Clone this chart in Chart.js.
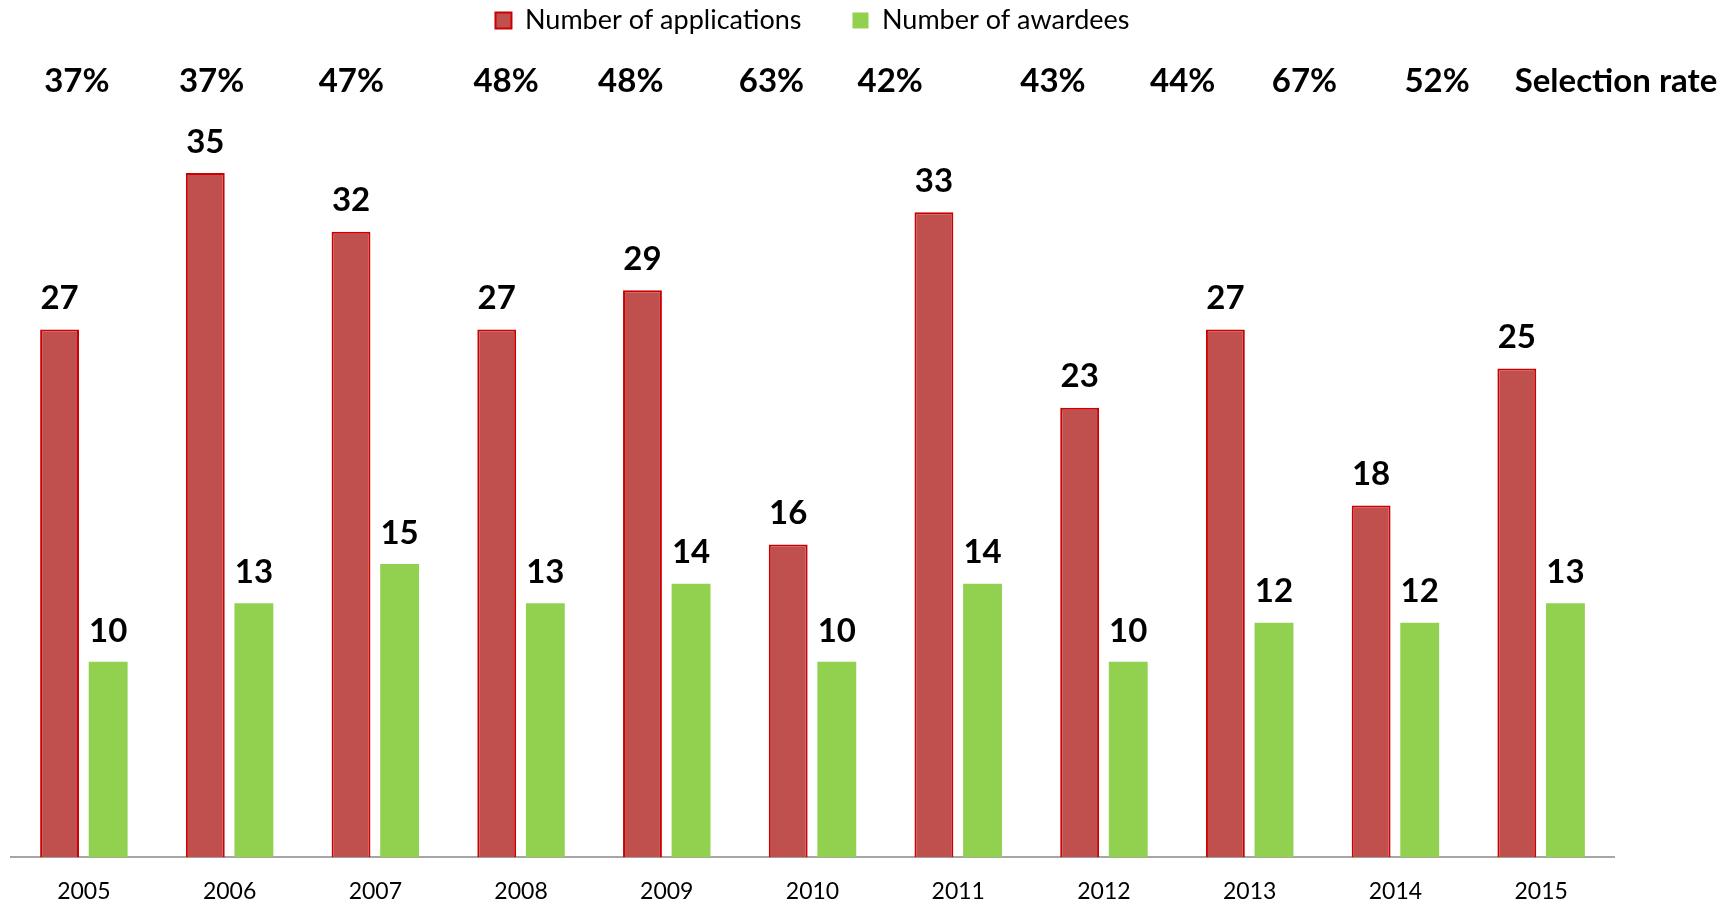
<!DOCTYPE html>
<html>
<head>
<meta charset="utf-8">
<script src="https://cdn.jsdelivr.net/npm/chart.js@4.4.0/dist/chart.umd.min.js"></script>
<style>
  html, body { margin: 0; padding: 0; background: #ffffff; }
  #wrap { width: 1733px; height: 903px; }
</style>
</head>
<body>
<div id="wrap"><canvas id="c" width="1733" height="903"></canvas></div>
<script>
// ---- data ----
const years = ["2005","2006","2007","2008","2009","2010","2011","2012","2013","2014","2015"];
const applications = [27, 35, 32, 27, 29, 16, 33, 23, 27, 18, 25];
const awardees = [10, 13, 15, 13, 14, 10, 14, 10, 12, 12, 13];
const selectionRates = ["37%","37%","47%","48%","48%","63%","42%","43%","44%","67%","52%"];
const selectionRateTitle = "Selection rate";

// ---- layout (text placement only) ----
const rateOffsets = [-7, -18, -24, -15, -36, -41, -68, -51, -67, -91, -104];
const rateY = 81;
const FONT = "Lato, 'Open Sans', 'DejaVu Sans', sans-serif";

const valueLabels = {
  id: 'valueLabels',
  afterDatasetsDraw(chart) {
    const ctx = chart.ctx;
    ctx.save();
    ctx.font = "bold 33px " + FONT;
    ctx.fillStyle = "#000000";
    ctx.textAlign = "center";
    ctx.textBaseline = "middle";
    chart.data.datasets.forEach((ds, di) => {
      const meta = chart.getDatasetMeta(di);
      meta.data.forEach((bar, i) => {
        ctx.fillText(String(ds.data[i]), bar.x, bar.y - 31);
      });
    });
    ctx.restore();
  }
};

const rateRow = {
  id: 'rateRow',
  afterDraw(chart) {
    const ctx = chart.ctx;
    const xs = chart.scales.x;
    ctx.save();
    ctx.font = "bold 33px " + FONT;
    ctx.fillStyle = "#000000";
    ctx.textAlign = "center";
    ctx.textBaseline = "middle";
    selectionRates.forEach((t, i) => {
      ctx.fillText(t, xs.getPixelForValue(i) + rateOffsets[i], rateY);
    });
    ctx.fillText(selectionRateTitle, chart.chartArea.right + 2, rateY);
    ctx.restore();
  }
};

new Chart(document.getElementById('c'), {
  type: 'bar',
  data: {
    labels: years,
    datasets: [
      {
        label: 'Number of applications',
        data: applications,
        backgroundColor: '#c0504d',
        borderColor: '#cc0000',
        borderWidth: 2,
        categoryPercentage: 0.667,
        barPercentage: 0.8
      },
      {
        label: 'Number of awardees',
        data: awardees,
        backgroundColor: '#92d050',
        borderColor: '#92d050',
        borderWidth: 0,
        categoryPercentage: 0.667,
        barPercentage: 0.8
      }
    ]
  },
  options: {
    responsive: false,
    animation: false,
    devicePixelRatio: 1,
    layout: { padding: { left: 11, right: 119, top: -44, bottom: -22 } },
    plugins: {
      legend: {
        display: true,
        position: 'top',
        fullSize: false,
        labels: {
          boxWidth: 16,
          boxHeight: 16,
          padding: 51,
          color: '#000000',
          font: { family: FONT, size: 27 }
        }
      },
      tooltip: { enabled: false }
    },
    scales: {
      x: {
        grid: { display: false, drawTicks: false },
        border: { display: true, color: '#a6a6a6', width: 2 },
        ticks: { color: '#000000', font: { family: FONT, size: 23 }, padding: 20 }
      },
      y: {
        display: false,
        min: 0,
        max: 41.6
      }
    }
  },
  plugins: [valueLabels, rateRow]
});
</script>
</body>
</html>
